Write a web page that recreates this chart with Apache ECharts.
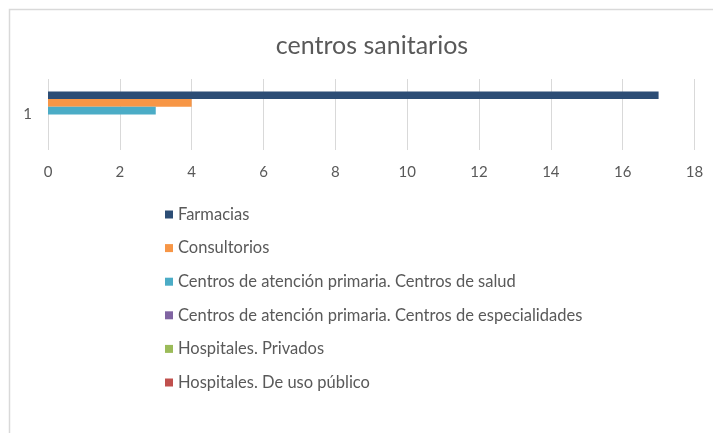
<!DOCTYPE html>
<html>
<head>
<meta charset="utf-8">
<script src="https://cdn.jsdelivr.net/npm/echarts@6/dist/echarts.min.js"></script>
<style>
  html, body { margin: 0; padding: 0; background: #fff; }
  #main { width: 713px; height: 433px; }
</style>
</head>
<body>
<div id="main"></div>
<script>
// datos
var categorias = ['1'];
var nombres = [
    'Farmacias',
    'Consultorios',
    'Centros de atención primaria. Centros de salud',
    'Centros de atención primaria. Centros de especialidades',
    'Hospitales. Privados',
    'Hospitales. De uso público'
];
var farmacias = [17];
var consultorios = [4];
var centrosSalud = [3];
var centrosEspecialidades = [0];
var hospPrivados = [0];
var hospPublicos = [0];
var colores = ['#2c4d75', '#f79646', '#4bacc6', '#8064a2', '#9bbb59', '#c0504d'];

var valores = [farmacias, consultorios, centrosSalud, centrosEspecialidades, hospPrivados, hospPublicos];
var gris = '#595959';
var fuente = 'Lato';

var myChart = echarts.init(document.getElementById('main'));
myChart.setOption({
    animation: false,
    color: colores,
    textStyle: {fontFamily: fuente, color: gris},
    graphic: [{
        type: 'rect',
        shape: {x: 9.5, y: 9.5, width: 740, height: 460},
        style: {fill: null, stroke: '#d9d9d9', lineWidth: 1.5},
        silent: true
    }],
    title: {
        text: 'centros sanitarios',
        left: 367,
        textAlign: 'center',
        top: 28,
        textStyle: {fontFamily: fuente, fontSize: 25, fontWeight: 'normal', color: gris}
    },
    legend: {
        orient: 'vertical',
        left: 160,
        top: 201,
        icon: 'rect',
        itemWidth: 8,
        itemHeight: 8,
        itemGap: 16.6,
        textStyle: {fontFamily: fuente, fontSize: 16.5, color: gris, lineHeight: 17},
        data: nombres
    },
    grid: {left: 48, right: 18.5, top: 79, height: 71, containLabel: false},
    xAxis: {
        type: 'value',
        min: 0,
        max: 18,
        interval: 2,
        axisLine: {show: false},
        axisTick: {show: false},
        axisLabel: {margin: 15, fontSize: 15, color: gris, fontFamily: fuente},
        splitLine: {lineStyle: {color: '#d9d9d9'}}
    },
    yAxis: {
        type: 'category',
        inverse: true,
        data: categorias,
        axisLine: {show: false},
        axisTick: {show: false},
        axisLabel: {margin: 16, fontSize: 15, color: gris, fontFamily: fuente}
    },
    series: nombres.map(function (n, i) {
        return {
            name: n,
            type: 'bar',
            data: valores[i],
            barGap: '0%',
            barCategoryGap: '35%',
            itemStyle: {color: colores[i]}
        };
    })
});
</script>
</body>
</html>
